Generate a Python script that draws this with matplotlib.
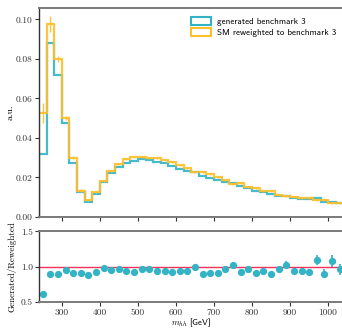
import numpy as np
import matplotlib
matplotlib.use("Agg")
import matplotlib.pyplot as plt
from matplotlib.patches import Patch

plt.rcParams['font.family'] = ['cmr10', 'DejaVu Serif']
plt.rcParams['mathtext.fontset'] = 'cm'
plt.rcParams['axes.formatter.use_mathtext'] = True

bin_edges = np.arange(240, 1041, 20)
bin_centers = (bin_edges[:-1] + bin_edges[1:]) / 2

generated = [0.0320, 0.0880, 0.0717, 0.0475, 0.0275, 0.0125, 0.0077, 0.0117, 0.0178, 0.0222,
             0.0255, 0.0275, 0.0282, 0.0293, 0.0287, 0.0280, 0.0274, 0.0257, 0.0245, 0.0233,
             0.0228, 0.0206, 0.0198, 0.0188, 0.0179, 0.0170, 0.0158, 0.0146, 0.0133, 0.0125,
             0.0117, 0.0108, 0.0108, 0.0095, 0.0092, 0.0090, 0.0094, 0.0078, 0.0078, 0.0069]
reweighted = [0.0525, 0.0975, 0.0800, 0.0502, 0.0300, 0.0134, 0.0087, 0.0125, 0.0182, 0.0233,
              0.0266, 0.0292, 0.0302, 0.0305, 0.0298, 0.0297, 0.0291, 0.0278, 0.0261, 0.0248,
              0.0230, 0.0227, 0.0217, 0.0204, 0.0185, 0.0166, 0.0171, 0.0152, 0.0146, 0.0133,
              0.0132, 0.0113, 0.0105, 0.0101, 0.0098, 0.0098, 0.0086, 0.0087, 0.0072, 0.0072]
reweighted_err = [0.0050, 0.0040, 0.0015, 0.0010, 0.0008, 0.0006, 0.0005, 0.0005, 0.0005, 0.0005,
                  0.0005, 0.0005, 0.0005, 0.0005, 0.0005, 0.0005, 0.0005, 0.0005, 0.0005, 0.0005,
                  0.0005, 0.0005, 0.0005, 0.0005, 0.0005, 0.0005, 0.0005, 0.0005, 0.0005, 0.0005,
                  0.0005, 0.0005, 0.0005, 0.0005, 0.0005, 0.0005, 0.0005, 0.0005, 0.0005, 0.0005]
ratio = [0.61, 0.90, 0.90, 0.95, 0.905, 0.915, 0.877, 0.93, 0.98, 0.95,
         0.96, 0.94, 0.925, 0.96, 0.965, 0.94, 0.94, 0.92, 0.94, 0.935,
         0.99, 0.90, 0.91, 0.915, 0.965, 1.03, 0.925, 0.96, 0.91, 0.94,
         0.89, 0.96, 1.03, 0.94, 0.935, 0.92, 1.10, 0.90, 1.08, 0.96]
ratio_err = [0.04, 0.02, 0.02, 0.02, 0.025, 0.03, 0.03, 0.03, 0.025, 0.02,
             0.02, 0.02, 0.02, 0.02, 0.02, 0.02, 0.02, 0.02, 0.025, 0.025,
             0.025, 0.025, 0.025, 0.03, 0.03, 0.03, 0.03, 0.03, 0.035, 0.035,
             0.04, 0.04, 0.05, 0.045, 0.05, 0.05, 0.07, 0.06, 0.08, 0.08]

cyan = '#33b3c6'
yellow = '#fdbf2a'
red = '#f5305a'
spine_gray = '#7a7a7a'

fig = plt.figure(figsize=(3.42, 3.31), dpi=100)
ax1 = fig.add_axes([0.114, 0.3444, 0.890, 0.6327])
ax2 = fig.add_axes([0.114, 0.0876, 0.890, 0.2135])

ax1.stairs(generated, bin_edges, baseline=0, color=cyan, lw=1.6, alpha=0.9)
ax1.stairs(reweighted, bin_edges, baseline=0, color=yellow, lw=1.6, alpha=0.9)
ax1.errorbar(bin_centers, reweighted, yerr=reweighted_err, fmt='none',
             ecolor=yellow, elinewidth=1.0, alpha=0.9)

ax1.set_xlim(240, 1040)
ax1.set_ylim(0, 0.106)
ax1.set_yticks([0.00, 0.02, 0.04, 0.06, 0.08, 0.10])
ax1.set_yticklabels(['0.00', '0.02', '0.04', '0.06', '0.08', '0.10'])
ax1.set_xticks([300, 400, 500, 600, 700, 800, 900, 1000])
ax1.set_xticklabels([])
ax1.set_ylabel('a.u.', fontsize=7, labelpad=1)

handles = [Patch(facecolor='none', edgecolor=cyan, lw=1.5),
           Patch(facecolor='none', edgecolor=yellow, lw=1.5)]
ax1.legend(handles, ['generated benchmark 3', 'SM reweighted to benchmark 3'],
           loc='upper left', bbox_to_anchor=(0.48, 0.985), frameon=False,
           prop={'family': 'cmss10', 'size': 6.5}, handlelength=2.2, handleheight=0.9,
           handletextpad=0.6, labelspacing=0.25, borderpad=0.2)

ax2.axhline(1.0, color=red, lw=1.0, zorder=1)
ax2.errorbar(bin_centers, ratio, yerr=ratio_err, fmt='o', color=cyan, ms=4.2,
             elinewidth=1.2, capsize=0, zorder=2)
ax2.set_xlim(240, 1040)
ax2.set_ylim(0.5, 1.5)
ax2.set_yticks([0.5, 1.0, 1.5])
ax2.set_yticklabels(['0.5', '1.0', '1.5'])
ax2.set_xticks([300, 400, 500, 600, 700, 800, 900, 1000])
ax2.set_xticklabels(['300', '400', '500', '600', '700', '800', '900', '1000'])
ax2.set_ylabel('Generated/Reweighted', fontsize=6.5, labelpad=3)
ax2.set_xlabel(r'$m_{hh}$ [GeV]', fontsize=6.3,
               family=['cmss10', 'DejaVu Sans'])
ax2.xaxis.set_label_coords(0.5, -0.2)

for ax in (ax1, ax2):
    ax.tick_params(axis='both', direction='out', length=3, width=0.8,
                   colors='#333333', labelsize=6.8, pad=1.5)
    for side in ('top', 'bottom', 'right'):
        ax.spines[side].set_color(spine_gray)
        ax.spines[side].set_linewidth(1.4)
    ax.spines['left'].set_color('#333333')
    ax.spines['left'].set_linewidth(1.0)

fig.savefig('out.png', dpi=100)
